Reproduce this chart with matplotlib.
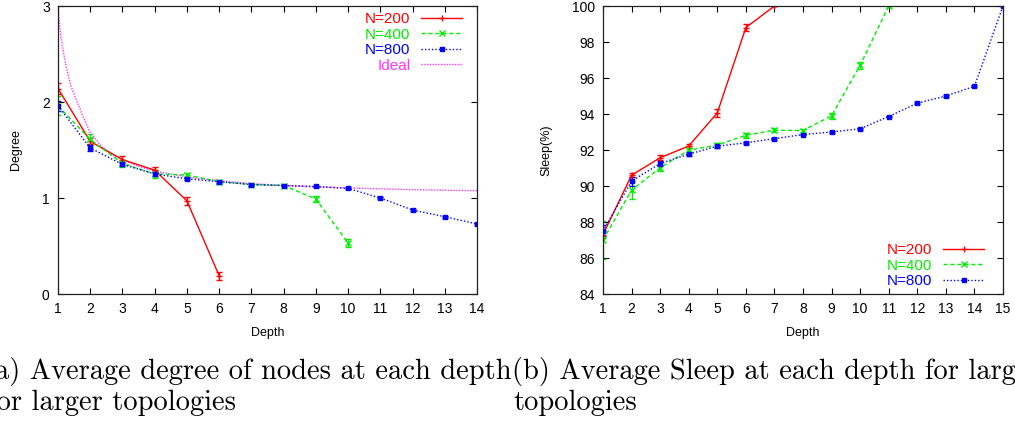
import matplotlib
matplotlib.use("Agg")
import matplotlib.pyplot as plt

# ------------------ data ------------------
depth_200 = [1, 2, 3, 4, 5, 6]
degree_200 = [2.14, 1.59, 1.40, 1.29, 0.97, 0.19]
degree_200_err = [0.06, 0.03, 0.04, 0.03, 0.04, 0.04]

depth_400 = [1, 2, 3, 4, 5, 6, 7, 8, 9, 10]
degree_400 = [1.96, 1.61, 1.36, 1.25, 1.24, 1.17, 1.14, 1.13, 0.99, 0.53]
degree_400_err = [0.10, 0.06, 0.04, 0.04, 0.02, 0.02, 0.01, 0.02, 0.03, 0.04]

depth_800 = [1, 2, 3, 4, 5, 6, 7, 8, 9, 10, 11, 12, 13, 14]
degree_800 = [1.96, 1.52, 1.35, 1.25, 1.20, 1.17, 1.14, 1.13, 1.12, 1.10,
              1.00, 0.875, 0.805, 0.73]
degree_800_err = [0.05, 0.03, 0.02, 0.02, 0.01, 0.01, 0.01, 0.01, 0.01, 0.01,
                  0.01, 0.01, 0.01, 0.01]

ideal_depth = [1.0, 1.05, 1.1, 1.18, 1.26, 1.4, 1.57, 1.8, 2.0, 2.4, 2.8, 3.0,
               3.5, 4.0, 5.0, 6.0, 7.0, 8.0, 9.0, 10.0, 11.0, 12.0, 13.0, 14.0]
ideal_degree = [3.0, 2.8, 2.66, 2.5, 2.36, 2.17, 2.02, 1.83, 1.68, 1.52, 1.43,
                1.40, 1.33, 1.28, 1.22, 1.18, 1.15, 1.13, 1.115, 1.105, 1.095,
                1.087, 1.081, 1.076]

depth_s200 = [1, 2, 3, 4, 5, 6, 7]
sleep_200 = [87.3, 90.6, 91.57, 92.22, 94.06, 98.8, 100.0]
sleep_200_err = [0.2, 0.12, 0.15, 0.1, 0.2, 0.2, 0.0]

depth_s400 = [1, 2, 3, 4, 5, 6, 7, 8, 9, 10, 11]
sleep_400 = [87.0, 89.77, 91.01, 91.99, 92.27, 92.82, 93.1, 93.08, 93.9,
             96.71, 100.0]
sleep_400_err = [1.05, 0.5, 0.15, 0.1, 0.1, 0.15, 0.1, 0.08, 0.15, 0.2, 0.0]

depth_s800 = list(range(1, 16))
sleep_800 = [87.51, 90.27, 91.25, 91.77, 92.21, 92.4, 92.63, 92.86, 93.0,
             93.18, 93.86, 94.6, 95.0, 95.54, 100.0]
sleep_800_err = [0.3, 0.25, 0.15, 0.1, 0.08, 0.06, 0.05, 0.05, 0.05, 0.05,
                 0.05, 0.05, 0.05, 0.05, 0.0]

RED, GREEN, BLUE, PINK = "#ff0000", "#00ee00", "#0000ff", "#ff33ff"
TICK_FONT = "Liberation Sans"
CAP_FONT = "cmr10"
CAP_SIZE = 20.5


def style_axes(ax, xticks, yticks):
    ax.set_xticks(xticks)
    ax.set_yticks(yticks)
    ax.tick_params(direction="in", top=True, right=True, length=4,
                   width=0.8, labelsize=10, pad=6)
    for lab in ax.get_xticklabels() + ax.get_yticklabels():
        lab.set_fontfamily(TICK_FONT)
    for sp in ax.spines.values():
        sp.set_linewidth(0.9)
        sp.set_color("#222222")


def series(ax, x, y, err, color, ls, marker, ms, label):
    if ls == "--":
        dashes = (3, 2)
    elif ls == ":":
        dashes = (1, 1.5)
    else:
        dashes = (None, None)
    cont = ax.errorbar(x, y, yerr=err, color=color, lw=1.0, marker=marker,
                       ms=ms, mew=1.0, capsize=2.5, elinewidth=0.9,
                       dashes=dashes, label=label)
    # legend shows only the line + marker, not the error bar
    line = cont.lines[0]
    line.set_label(label)
    return line


def add_legend(ax, handles, loc, anchor):
    return ax.legend(handles=handles, labels=[h.get_label() for h in handles],
                     loc=loc, bbox_to_anchor=anchor, frameon=False,
                     markerfirst=False, labelcolor="linecolor",
                     handlelength=2.7, handletextpad=0.7, labelspacing=0.1,
                     numpoints=1, prop={"family": TICK_FONT, "size": 11})


fig = plt.figure(figsize=(10.15, 4.23), dpi=100)

# (a) degree per depth
ax1 = fig.add_axes([58 / 1015, 1 - 294 / 423, (477 - 58) / 1015, 288 / 423])
h200 = series(ax1, depth_200, degree_200, degree_200_err, RED, "-", "+", 5, "N=200")
h400 = series(ax1, depth_400, degree_400, degree_400_err, GREEN, "--", "x", 4, "N=400")
h800 = series(ax1, depth_800, degree_800, degree_800_err, BLUE, ":", "s", 3.2, "N=800")
hideal, = ax1.plot(ideal_depth, ideal_degree, color=PINK, lw=1.0,
                   dashes=(1, 1), label="Ideal")
ax1.set_xlim(1, 14)
ax1.set_ylim(0, 3)
style_axes(ax1, range(1, 15), [0, 1, 2, 3])
ax1.set_xlabel("Depth", fontfamily=TICK_FONT, fontsize=9, labelpad=8)
ax1.set_ylabel("Degree", fontfamily=TICK_FONT, fontsize=9, labelpad=14)
add_legend(ax1, [h200, h400, h800, hideal], "upper right", (0.998, 1.027))

# (b) sleep per depth
ax2 = fig.add_axes([603 / 1015, 1 - 294 / 423, (1003 - 603) / 1015, 288 / 423])
g200 = series(ax2, depth_s200, sleep_200, sleep_200_err, RED, "-", "+", 5, "N=200")
g400 = series(ax2, depth_s400, sleep_400, sleep_400_err, GREEN, "--", "x", 4, "N=400")
g800 = series(ax2, depth_s800, sleep_800, sleep_800_err, BLUE, ":", "s", 3.2, "N=800")
ax2.set_xlim(1, 15)
ax2.set_ylim(84, 100)
style_axes(ax2, range(1, 16), range(84, 101, 2))
ax2.set_xlabel("Depth", fontfamily=TICK_FONT, fontsize=9, labelpad=8)
ax2.set_ylabel("Sleep(%)", fontfamily=TICK_FONT, fontsize=9, labelpad=14)
add_legend(ax2, [g200, g400, g800], "lower right", (0.988, -0.028))

# sub-captions
fig.text(512 / 1015, 1 - 379 / 423, "(a) Average degree of nodes at each depth",
         ha="right", va="baseline", fontfamily=CAP_FONT, fontsize=CAP_SIZE)
fig.text(-12 / 1015, 1 - 410 / 423, "for larger topologies",
         ha="left", va="baseline", fontfamily=CAP_FONT, fontsize=CAP_SIZE)
fig.text(512 / 1015, 1 - 379 / 423,
         "(b) Average Sleep at each depth for larger topologies",
         ha="left", va="baseline", fontfamily=CAP_FONT, fontsize=CAP_SIZE)
fig.text(513 / 1015, 1 - 410 / 423, "topologies",
         ha="left", va="baseline", fontfamily=CAP_FONT, fontsize=CAP_SIZE)

fig.savefig("out.png", dpi=100)
